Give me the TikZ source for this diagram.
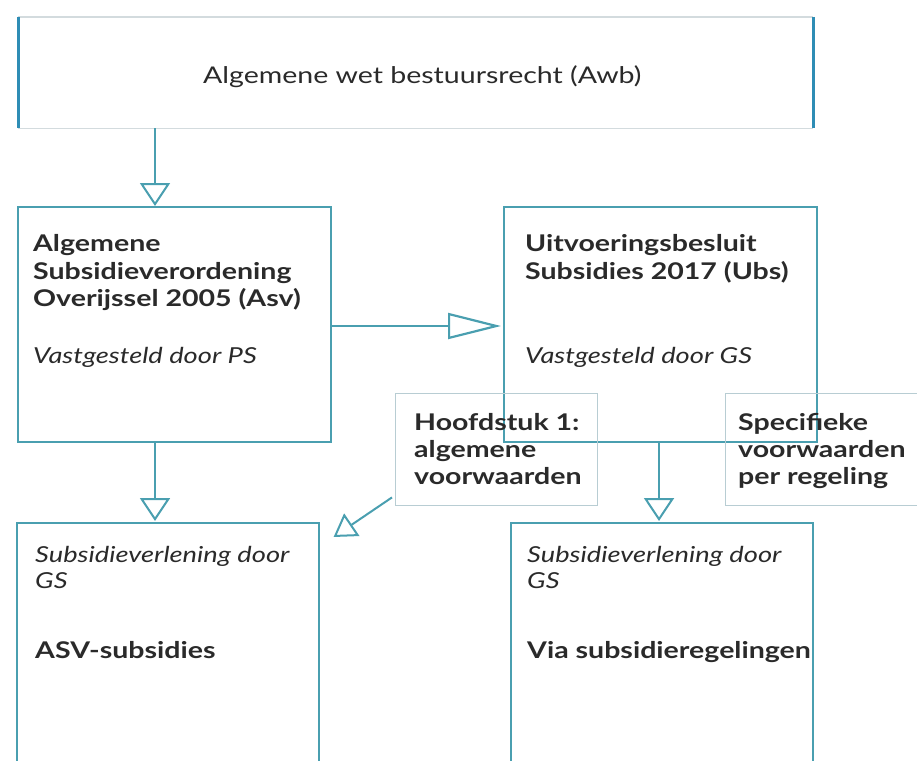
\documentclass[tikz,border=0pt]{standalone}
\usepackage{fontspec}
\setmainfont{Lato}[FakeStretch=1.24]
\usetikzlibrary{arrows.meta}
\definecolor{lineblue}{HTML}{4A9FB0}
\definecolor{sideblue}{HTML}{2E8DB5}
\definecolor{lightbord}{HTML}{B8CDD3}
\definecolor{topgray}{HTML}{D3DBDE}
\definecolor{txt}{HTML}{2A2A2A}
\begin{document}
\begin{tikzpicture}[x=1pt,y=-1pt,
  box/.style={draw=lineblue, line width=1.6pt, anchor=north west, inner sep=0pt},
  lbox/.style={draw=lightbord, line width=1.4pt, anchor=north west, inner sep=0pt},
  arr/.style={draw=lineblue, line width=2pt, -{Triangle[open, width=30pt, length=23pt, line width=2pt]}},
  harr/.style={draw=lineblue, line width=2pt, -{Triangle[open, width=26pt, length=53pt, line width=2.2pt]}},
  darr/.style={draw=lineblue, line width=2pt, -{Triangle[open, width=27pt, length=22pt, line width=2pt]}},
  bt/.style={anchor=base west, inner sep=0pt, text=txt, font=\fontsize{23}{28}\selectfont\bfseries},
  it/.style={anchor=base west, inner sep=0pt, text=txt, font=\fontsize{22}{26}\selectfont\itshape},
  rt/.style={anchor=base west, inner sep=0pt, text=txt, font=\fontsize{23}{28}\selectfont}]
\useasboundingbox (0,0) rectangle (917,760);
% top box
\node[anchor=north west, inner sep=0pt, minimum width=795pt, minimum height=111pt] (awb) at (18,17) {};
\draw[topgray, line width=1.5pt] (awb.north west) -- (awb.north east);
\draw[topgray, line width=1.5pt] (awb.south west) -- (awb.south east);
\draw[sideblue, line width=3pt] (awb.north west) -- (awb.south west);
\draw[sideblue, line width=3pt] (awb.north east) -- (awb.south east);
\node[rt] (awbt) at (203,83) {Algemene wet bestuursrecht (Awb)};
% middle boxes
\node[box, minimum width=313pt, minimum height=235pt] (asv) at (17,206) {};
\node[box, minimum width=313pt, minimum height=235pt] (ubs) at (503,206) {};
\node[lbox, minimum width=202pt, minimum height=112pt] (hfd) at (395,393) {};
\node[lbox, minimum width=210pt, minimum height=112pt] (spec) at (725,393) {};
% bottom boxes
\node[box, minimum width=302pt, minimum height=260pt] (asvs) at (16,522) {};
\node[box, minimum width=302pt, minimum height=260pt] (via) at (510,522) {};
% texts
\node[bt] (a1) at (33,251.5) {Algemene};
\node[bt] (a2) at (33,279) {Subsidieverordening};
\node[bt] (a3) at (33,306.5) {Overijssel 2005 (Asv)};
\node[it] (a4) at (33,363) {Vastgesteld door PS};
\node[bt] (u1) at (525,251.5) {Uitvoeringsbesluit};
\node[bt] (u2) at (525,279) {Subsidies 2017 (Ubs)};
\node[it] (u3) at (525,363) {Vastgesteld door GS};
\node[bt] (h1) at (414,430) {Hoofdstuk 1:};
\node[bt] (h2) at (414,457) {algemene};
\node[bt] (h3) at (414,484) {voorwaarden};
\node[bt] (s1) at (738,430) {Specifieke};
\node[bt] (s2) at (738,457) {voorwaarden};
\node[bt] (s3) at (738,484) {per regeling};
\node[it] (l1) at (35,562) {Subsidieverlening door};
\node[it] (l2) at (35,588) {GS};
\node[bt] (l3) at (35,658) {ASV-subsidies};
\node[it] (v1) at (527,562) {Subsidieverlening door};
\node[it] (v2) at (527,588) {GS};
\node[bt] (v3) at (527,658) {Via subsidieregelingen};
% arrows
\draw[arr] ([xshift=137pt]awb.south west) -- ([xshift=138pt]asv.north west);
\draw[harr] ([yshift=-120pt]asv.north east) -- ([xshift=-2pt,yshift=-120pt]ubs.north west);
\draw[arr] ([xshift=138pt]asv.south west) -- ([xshift=139pt,yshift=1pt]asvs.north west);
\draw[arr] ([xshift=156pt]ubs.south west) -- ([xshift=149pt,yshift=1pt]via.north west);
\draw[darr] ([shift={(-3pt,9pt)}]hfd.south west) -- ([shift={(14pt,-15pt)}]asvs.north east);
\end{tikzpicture}
\end{document}
